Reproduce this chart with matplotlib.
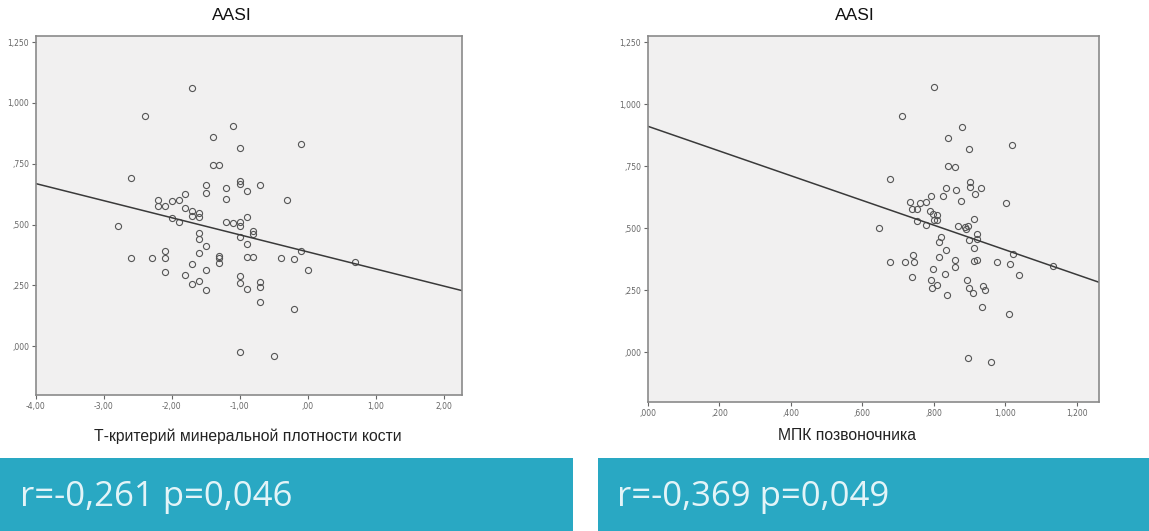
import matplotlib
matplotlib.use("Agg")
import matplotlib.pyplot as plt
from matplotlib.ticker import FuncFormatter

# AASI vs T-score (left panel)
tscore = [-1.7, -2.4, -1.1, -1.4, -1.0, -0.1, -1.4, -1.3, -2.6, -1.5,
          -1.2, -1.0, -1.0, -0.7, -0.9, -1.8, -1.5, -1.2, -0.3, -2.2,
          -2.2, -2.1, -2.0, -1.9, -1.8, -1.7, -1.6, -1.7, -1.6, -2.0,
          -1.9, -0.9, -2.8, -1.2, -1.1, -1.0, -1.0, -0.8, -0.8, -1.6,
          -1.6, -1.0, -0.9, -1.5, -2.1, -2.1, -1.6, -2.6, -2.3, -1.3,
          -1.3, -1.3, -0.9, -0.8, -0.4, -0.2, -0.1, 0.7, -1.7, -2.1,
          -1.5, 0.0, -1.8, -1.0, -1.0, -0.7, -0.7, -1.6, -1.7, -1.5,
          -0.9, -0.7, -0.2, -1.0, -0.5]
aasi_left = [1.063, 0.945, 0.905, 0.859, 0.814, 0.831, 0.747, 0.747, 0.693, 0.661,
             0.649, 0.680, 0.667, 0.661, 0.639, 0.627, 0.628, 0.605, 0.600, 0.601,
             0.577, 0.577, 0.598, 0.601, 0.567, 0.557, 0.549, 0.536, 0.530, 0.529,
             0.512, 0.533, 0.496, 0.511, 0.505, 0.509, 0.495, 0.475, 0.462, 0.464,
             0.443, 0.448, 0.419, 0.411, 0.391, 0.361, 0.384, 0.361, 0.361, 0.372,
             0.361, 0.343, 0.366, 0.369, 0.364, 0.357, 0.391, 0.345, 0.337, 0.305,
             0.313, 0.313, 0.292, 0.287, 0.259, 0.266, 0.245, 0.268, 0.258, 0.230,
             0.236, 0.182, 0.152, -0.023, -0.041]

# AASI vs spine BMD (right panel)
bmd = [0.800, 0.711, 0.880, 0.840, 0.897, 1.019, 0.840, 0.859, 0.678, 0.900,
       0.901, 0.834, 0.863, 0.933, 0.914, 0.826, 0.791, 0.875, 1.001, 0.734,
       0.761, 0.778, 0.738, 0.752, 0.789, 0.798, 0.810, 0.801, 0.810, 0.753,
       0.912, 0.778, 0.868, 0.887, 0.896, 0.891, 0.646, 0.921, 0.921, 0.820,
       0.814, 0.897, 0.912, 0.835, 0.742, 1.020, 0.676, 0.718, 0.745, 0.814,
       0.860, 0.860, 0.912, 0.921, 0.977, 1.014, 1.134, 0.798, 0.832, 0.740,
       1.037, 0.791, 0.894, 0.796, 0.810, 0.899, 0.909, 0.938, 0.943, 0.836,
       0.936, 1.010, 0.896, 0.961]
aasi_right = [1.070, 0.952, 0.909, 0.864, 0.819, 0.835, 0.750, 0.747, 0.698, 0.687,
              0.667, 0.663, 0.655, 0.664, 0.640, 0.630, 0.629, 0.609, 0.602, 0.608,
              0.601, 0.605, 0.579, 0.579, 0.569, 0.559, 0.552, 0.535, 0.532, 0.531,
              0.536, 0.512, 0.509, 0.505, 0.511, 0.499, 0.500, 0.478, 0.456, 0.465,
              0.445, 0.452, 0.422, 0.414, 0.394, 0.395, 0.363, 0.363, 0.363, 0.384,
              0.371, 0.344, 0.370, 0.371, 0.364, 0.358, 0.348, 0.337, 0.316, 0.305,
              0.313, 0.293, 0.290, 0.258, 0.272, 0.258, 0.239, 0.267, 0.250, 0.231,
              0.183, 0.153, -0.022, -0.039]

# regression lines (intercept, slope) as shown in the picture
fit_left = (0.388, -0.0701)
fit_right = (0.911, -0.498)

titles = ["AASI", "AASI"]
xlabels = ["Т-критерий минеральной плотности кости", "МПК позвоночника"]
stats = ["r=-0,261 p=0,046", "r=-0,369 p=0,049"]
left_xticks = [-4, -3, -2, -1, 0, 1, 2]
right_xticks = [0, 0.2, 0.4, 0.6, 0.8, 1.0, 1.2]
yticks = [0, 0.25, 0.5, 0.75, 1.0, 1.25]


def spss_fmt(decimals):
    def f(v, pos):
        s = f"{v:.{decimals}f}".replace(".", ",")
        if s.startswith("0,"):
            s = s[1:]
        elif s.startswith("-0,"):
            s = "-" + s[2:]
        return s
    return FuncFormatter(f)


fig = plt.figure(figsize=(11.49, 5.31), dpi=100)
fig.patch.set_facecolor("white")

W, H = 1149, 531
ax1 = fig.add_axes([36 / W, 1 - 395 / H, 426 / W, 359 / H])
ax2 = fig.add_axes([648 / W, 1 - 402 / H, 451 / W, 366 / H])

panels = [
    (ax1, tscore, aasi_left, fit_left, (-4, 2.27), left_xticks, 2),
    (ax2, bmd, aasi_right, fit_right, (0, 1.262), right_xticks, 3),
]

for ax, xs, ys, fit, xlim, xt, dec in panels:
    ax.set_facecolor("#f1f0f0")
    ax.plot(xs, ys, linestyle="none", marker="o", markersize=4.4,
            markerfacecolor="none", markeredgecolor="#555555", markeredgewidth=0.8)
    b0, b1 = fit
    ax.plot(list(xlim), [b0 + b1 * xlim[0], b0 + b1 * xlim[1]],
            color="#3a3a3a", linewidth=1.1)
    ax.set_xlim(*xlim)
    ax.set_ylim(-0.2, 1.275)
    ax.set_xticks(xt)
    ax.set_yticks(yticks)
    ax.xaxis.set_major_formatter(spss_fmt(dec))
    ax.yaxis.set_major_formatter(spss_fmt(3))
    ax.tick_params(labelsize=5.5, colors="#666666", length=3, width=0.8, pad=2)
    for sp in ax.spines.values():
        sp.set_color("#8a8a8a")
        sp.set_linewidth(1.2)

# titles and axis labels
fig.text(232 / W, 1 - 16 / H, titles[0], ha="center", va="center",
         fontsize=12.5, family=["Liberation Sans", "DejaVu Sans"], color="#111111")
fig.text(855 / W, 1 - 16 / H, titles[1], ha="center", va="center",
         fontsize=12.5, family=["Liberation Sans", "DejaVu Sans"], color="#111111")
fig.text(248 / W, 1 - 436 / H, xlabels[0], ha="center", va="center",
         fontsize=11.3, family=["Liberation Sans Narrow", "Liberation Sans", "DejaVu Sans"],
         color="#222222")
fig.text(847 / W, 1 - 436 / H, xlabels[1], ha="center", va="center",
         fontsize=11.3, family=["Liberation Sans Narrow", "Liberation Sans", "DejaVu Sans"],
         color="#222222")

# teal result banners
teal = "#29a8c3"
fig.patches.append(plt.Rectangle((0, 0), 573 / W, 73 / H, transform=fig.transFigure,
                                 facecolor=teal, edgecolor="none", zorder=0))
fig.patches.append(plt.Rectangle((598 / W, 0), 551 / W, 73 / H, transform=fig.transFigure,
                                 facecolor=teal, edgecolor="none", zorder=0))
fig.text(20 / W, 1 - 497 / H, stats[0], ha="left", va="center", fontsize=25,
         family=["Open Sans", "DejaVu Sans"], color="#e3f4f8")
fig.text(617 / W, 1 - 497 / H, stats[1], ha="left", va="center", fontsize=25,
         family=["Open Sans", "DejaVu Sans"], color="#e3f4f8")

fig.savefig("out.png", dpi=100)
